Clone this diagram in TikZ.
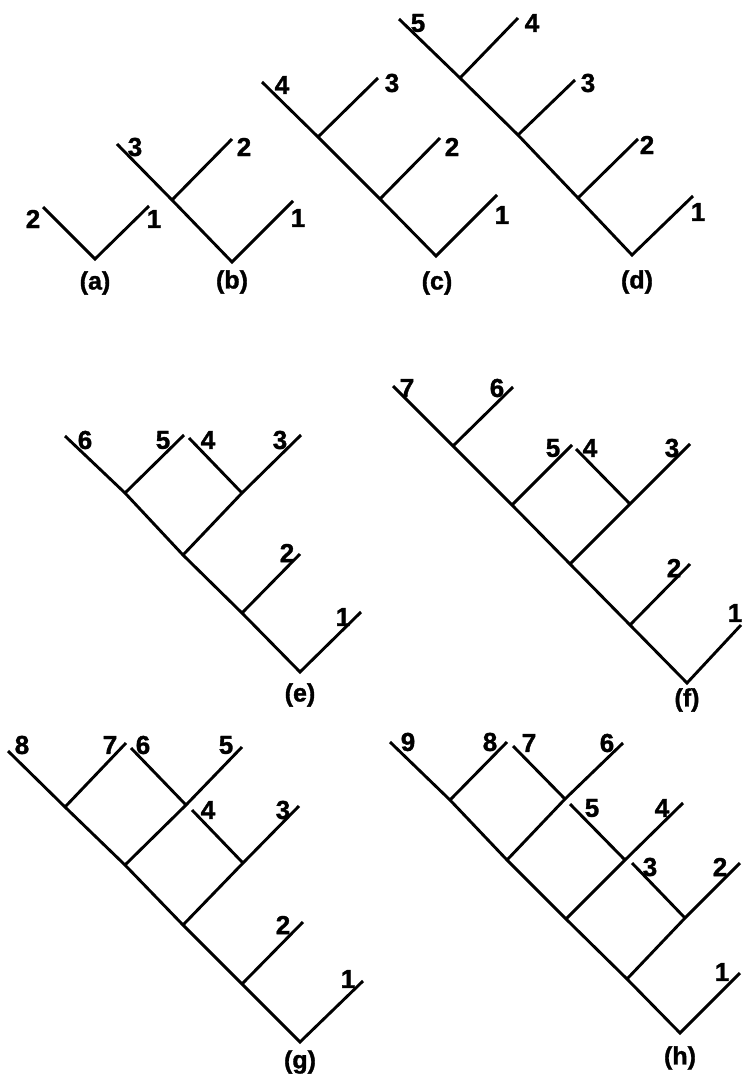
\documentclass[tikz,border=0pt]{standalone}
\usepackage{fontspec}
\setmainfont{Liberation Sans}
\newfontfamily\heavyfont{Liberation Sans Bold}[FakeBold=1.3]
\begin{document}
\begin{tikzpicture}[x=1pt,y=-1pt,
  br/.style={line width=2.9pt,line join=miter},
  lab/.style={inner sep=0pt,font=\fontsize{26}{28}\heavyfont},
  captxt/.style={inner sep=0pt,font=\fontsize{25}{28}\heavyfont}]
\useasboundingbox (0,0) rectangle (742,1076);
% ---------- (a)
\coordinate (ar) at (95,259); \coordinate (a1) at (149,206); \coordinate (a2) at (43,207);
\draw[br] (a2) -- (ar) -- (a1);
\node[lab] (la2) at (33,219) {2};
\node[lab] (la1) at (154,219) {1};
\node[captxt] (ca) at (95,283) {(a)};
% ---------- (b)
\coordinate (bR) at (232,262); \coordinate (b1) at (293,201); \coordinate (bj) at (172,200);
\coordinate (b3) at (117,144); \coordinate (b2) at (232,139);
\draw[br] (b3) -- (bj) -- (bR) -- (b1);
\draw[br] (bj) -- (b2);
\node[lab] (lb3) at (135,147) {3};
\node[lab] (lb2) at (244,147) {2};
\node[lab] (lb1) at (298,218) {1};
\node[captxt] (cb) at (232,282) {(b)};
% ---------- (c)
\coordinate (cr) at (436,256); \coordinate (c1) at (497,195); \coordinate (cj2) at (380,199);
\coordinate (c2) at (440,138); \coordinate (cj3) at (318,137); \coordinate (c3) at (378,78);
\coordinate (c4) at (262,82);
\draw[br] (c4) -- (cj3) -- (cj2) -- (cr) -- (c1);
\draw[br] (cj3) -- (c3);
\draw[br] (cj2) -- (c2);
\node[lab] (lc4) at (282,85) {4};
\node[lab] (lc3) at (392,83) {3};
\node[lab] (lc2) at (452,147) {2};
\node[lab] (lc1) at (502,215) {1};
\node[captxt] (cc) at (437,283) {(c)};
% ---------- (d)
\coordinate (dr) at (632,255); \coordinate (d1) at (693,196); \coordinate (dj2) at (578,198);
\coordinate (d2) at (638,139); \coordinate (dj3) at (518,135); \coordinate (d3) at (575,80);
\coordinate (dj4) at (460,78); \coordinate (d4) at (518,18); \coordinate (d5) at (399,19);
\draw[br] (d5) -- (dj4) -- (dj3) -- (dj2) -- (dr) -- (d1);
\draw[br] (dj4) -- (d4);
\draw[br] (dj3) -- (d3);
\draw[br] (dj2) -- (d2);
\node[lab] (ld5) at (418,23) {5};
\node[lab] (ld4) at (532,23) {4};
\node[lab] (ld3) at (588,83) {3};
\node[lab] (ld2) at (647,145) {2};
\node[lab] (ld1) at (698,212) {1};
\node[captxt] (cd) at (637,282) {(d)};
% ---------- (e)
\coordinate (er) at (300,672); \coordinate (e1) at (361,612); \coordinate (ej2) at (242,613);
\coordinate (e2) at (300,554); \coordinate (ej) at (183,555); \coordinate (ej43) at (242,493);
\coordinate (e3) at (301,435); \coordinate (e4) at (189,438); \coordinate (ej5) at (125,493);
\coordinate (e5) at (184,435); \coordinate (e6) at (65,436);
\draw[br] (e6) -- (ej5) -- (ej) -- (ej2) -- (er) -- (e1);
\draw[br] (ej5) -- (e5);
\draw[br] (ej) -- (ej43) -- (e3);
\draw[br] (ej43) -- (e4);
\draw[br] (ej2) -- (e2);
\node[lab] (le6) at (85,440) {6};
\node[lab] (le5) at (163,440) {5};
\node[lab] (le4) at (208,440) {4};
\node[lab] (le3) at (280,440) {3};
\node[lab] (le2) at (287,553) {2};
\node[lab] (le1) at (343,617) {1};
\node[captxt] (ce) at (300,695) {(e)};
% ---------- (f)
\coordinate (fr) at (687,683); \coordinate (f1) at (741,625); \coordinate (fj2) at (630,625);
\coordinate (f2) at (690,564); \coordinate (fj) at (570,564); \coordinate (fj43) at (630,504);
\coordinate (f3) at (690,444); \coordinate (f4) at (576,449); \coordinate (fj5) at (512,505);
\coordinate (f5) at (572,445); \coordinate (fj6) at (453,446); \coordinate (f6) at (513,387);
\coordinate (f7) at (393,386);
\draw[br] (f7) -- (fj6) -- (fj5) -- (fj) -- (fj2) -- (fr) -- (f1);
\draw[br] (fj6) -- (f6);
\draw[br] (fj5) -- (f5);
\draw[br] (fj) -- (fj43) -- (f3);
\draw[br] (fj43) -- (f4);
\draw[br] (fj2) -- (f2);
\node[lab] (lf7) at (407,388) {7};
\node[lab] (lf6) at (497,388) {6};
\node[lab] (lf5) at (553,448) {5};
\node[lab] (lf4) at (590,448) {4};
\node[lab] (lf3) at (672,448) {3};
\node[lab] (lf2) at (674,568) {2};
\node[lab] (lf1) at (735,613) {1};
\node[captxt] (cf) at (687,700) {(f)};
% ---------- (g)
\coordinate (gr) at (300,1042); \coordinate (g1) at (363,981); \coordinate (gj2) at (242,984);
\coordinate (g2) at (303,922); \coordinate (gj) at (183,925); \coordinate (gj43) at (243,863);
\coordinate (g3) at (299,806); \coordinate (g4) at (192,810); \coordinate (gjb) at (125,865);
\coordinate (gj65) at (186,805); \coordinate (g5) at (242,747); \coordinate (g6) at (131,748);
\coordinate (gj7) at (65,807); \coordinate (g7) at (126,743); \coordinate (g8) at (8,751);
\draw[br] (g8) -- (gj7) -- (gjb) -- (gj) -- (gj2) -- (gr) -- (g1);
\draw[br] (gj7) -- (g7);
\draw[br] (gjb) -- (gj65) -- (g5);
\draw[br] (gj65) -- (g6);
\draw[br] (gj) -- (gj43) -- (g3);
\draw[br] (gj43) -- (g4);
\draw[br] (gj2) -- (g2);
\node[lab] (lg8) at (22,745) {8};
\node[lab] (lg7) at (110,745) {7};
\node[lab] (lg6) at (143,745) {6};
\node[lab] (lg5) at (226,745) {5};
\node[lab] (lg4) at (208,810) {4};
\node[lab] (lg3) at (283,810) {3};
\node[lab] (lg2) at (283,925) {2};
\node[lab] (lg1) at (348,979) {1};
\node[captxt] (cg) at (300,1062) {(g)};
% ---------- (h)
\coordinate (hr) at (680,1033); \coordinate (h1) at (740,973); \coordinate (hj1) at (627,979);
\coordinate (hj32) at (685,918); \coordinate (h2) at (740,863); \coordinate (h3) at (632,863);
\coordinate (hj) at (566,919); \coordinate (hj54) at (625,860); \coordinate (h4) at (683,803);
\coordinate (h5) at (570,804); \coordinate (hjj) at (507,860); \coordinate (hj76) at (565,799);
\coordinate (h6) at (623,743); \coordinate (h7) at (513,746); \coordinate (hj8) at (450,800);
\coordinate (h8) at (507,742); \coordinate (h9) at (390,742);
\draw[br] (h9) -- (hj8) -- (hjj) -- (hj) -- (hj1) -- (hr) -- (h1);
\draw[br] (hj8) -- (h8);
\draw[br] (hjj) -- (hj76) -- (h6);
\draw[br] (hj76) -- (h7);
\draw[br] (hj) -- (hj54) -- (h4);
\draw[br] (hj54) -- (h5);
\draw[br] (hj1) -- (hj32) -- (h2);
\draw[br] (hj32) -- (h3);
\node[lab] (lh9) at (408,742) {9};
\node[lab] (lh8) at (490,742) {8};
\node[lab] (lh7) at (529,743) {7};
\node[lab] (lh6) at (607,743) {6};
\node[lab] (lh5) at (592,808) {5};
\node[lab] (lh4) at (662,808) {4};
\node[lab] (lh3) at (650,867) {3};
\node[lab] (lh2) at (720,867) {2};
\node[lab] (lh1) at (722,972) {1};
\node[captxt] (ch) at (680,1058) {(h)};
\end{tikzpicture}
\end{document}
